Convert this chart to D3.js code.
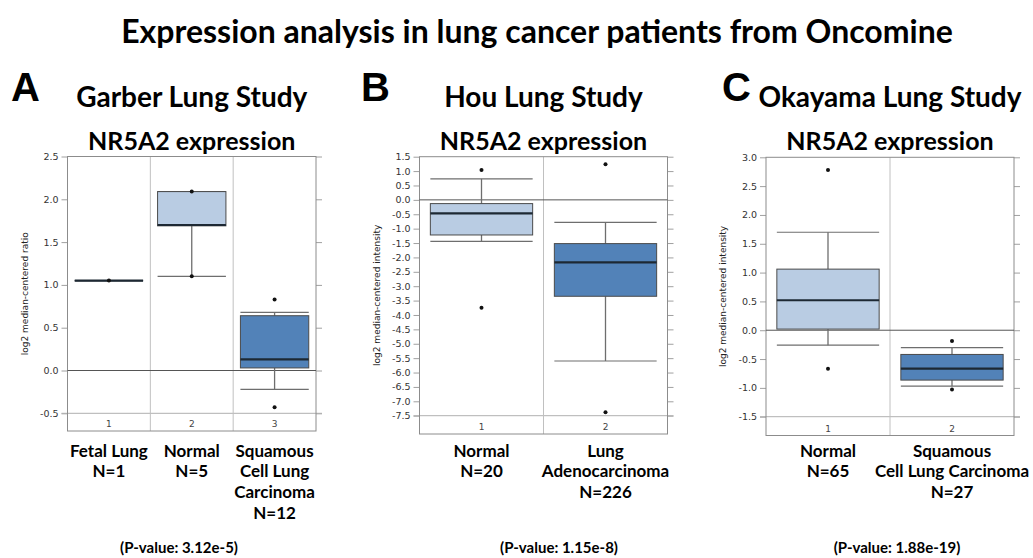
<!DOCTYPE html>
<html><head><meta charset="utf-8">
<script src="https://cdn.jsdelivr.net/npm/d3@7"></script>
<style>body{margin:0;background:#fff}svg{display:block}</style>
</head><body>
<svg id="chart" width="1033" height="558"></svg>
<script>
// ---------------- DATA ----------------
const mainTitle = "Expression analysis in lung cancer patients from Oncomine";
const panelLetters = ["A", "B", "C"];
const studyNames = ["Garber Lung Study", "Hou Lung Study", "Okayama Lung Study"];
const geneTitle = "NR5A2 expression";
const yAxisTitles = ["log2 median-centered ratio", "log2 median-centered intensity", "log2 median-centered intensity"];
const pValues = ["(P-value: 3.12e-5)", "(P-value: 1.15e-8)", "(P-value: 1.88e-19)"];

// Panel A: Garber
const garberCategories = ["Fetal Lung", "Normal", "Squamous\nCell Lung\nCarcinoma"];
const garberN = [1, 5, 12];
const garberQ1 = [1.05, 1.69, 0.03];
const garberMedian = [1.05, 1.70, 0.13];
const garberQ3 = [1.05, 2.09, 0.64];
const garberWhiskerLow = [1.05, 1.10, -0.22];
const garberWhiskerHigh = [1.05, 2.09, 0.68];
const garberPoints = [[1.05], [1.10, 2.09], [0.83, -0.43]];
const garberTicks = [-0.5, 0.0, 0.5, 1.0, 1.5, 2.0, 2.5];

// Panel B: Hou
const houCategories = ["Normal", "Lung\nAdenocarcinoma"];
const houN = [20, 226];
const houQ1 = [-1.22, -3.35];
const houMedian = [-0.47, -2.17];
const houQ3 = [-0.13, -1.52];
const houWhiskerLow = [-1.44, -5.60];
const houWhiskerHigh = [0.73, -0.78];
const houPoints = [[1.04, -3.75], [1.24, -7.38]];
const houTicks = [-7.5, -7.0, -6.5, -6.0, -5.5, -5.0, -4.5, -4.0, -3.5, -3.0, -2.5, -2.0, -1.5, -1.0, -0.5, 0.0, 0.5, 1.0, 1.5];

// Panel C: Okayama
const okayamaCategories = ["Normal", "Squamous\nCell Lung Carcinoma"];
const okayamaN = [65, 27];
const okayamaQ1 = [0.02, -0.865];
const okayamaMedian = [0.52, -0.667];
const okayamaQ3 = [1.06, -0.42];
const okayamaWhiskerLow = [-0.26, -0.97];
const okayamaWhiskerHigh = [1.70, -0.30];
const okayamaPoints = [[2.78, -0.67], [-0.185, -1.03]];
const okayamaTicks = [-1.5, -1.0, -0.5, 0.0, 0.5, 1.0, 1.5, 2.0, 2.5, 3.0];

// ---------------- LAYOUT / STYLE ----------------
const svg = d3.select("#chart");
const bold = "Lato, 'Noto Sans', sans-serif";
const small = "'DejaVu Sans', sans-serif";
const lightFill = "#b9cce3";
const darkFill = "#5282b8";

svg.append("text").attr("x", 537).attr("y", 43).attr("text-anchor", "middle")
  .style("font-family", bold).style("font-weight", 700).style("font-size", "32px").text(mainTitle);

const panels = [
  {cats: garberCategories, n: garberN, q1: garberQ1, med: garberMedian, q3: garberQ3, wlo: garberWhiskerLow, whi: garberWhiskerHigh, pts: garberPoints, ticks: garberTicks,
   x0: 67.5, x1: 316, yTop: 156.5, yLow: 413.3, yBot: 431, letterX: 11, pX: 179},
  {cats: houCategories, n: houN, q1: houQ1, med: houMedian, q3: houQ3, wlo: houWhiskerLow, whi: houWhiskerHigh, pts: houPoints, ticks: houTicks,
   x0: 419.5, x1: 667.5, yTop: 156.7, yLow: 415.7, yBot: 434, letterX: 361, pX: 559},
  {cats: okayamaCategories, n: okayamaN, q1: okayamaQ1, med: okayamaMedian, q3: okayamaQ3, wlo: okayamaWhiskerLow, whi: okayamaWhiskerHigh, pts: okayamaPoints, ticks: okayamaTicks,
   x0: 766, x1: 1014, yTop: 157.3, yLow: 416.7, yBot: 435.5, letterX: 722, pX: 897}
];

panels.forEach((p, pi) => {
  const g = svg.append("g");
  const idx = p.cats.map((d, i) => i);
  const x = d3.scaleBand().domain(idx).range([p.x0, p.x1]);
  const y = d3.scaleLinear().domain([p.ticks[0], p.ticks[p.ticks.length - 1]]).range([p.yLow, p.yTop]);
  const cx = (p.x0 + p.x1) / 2;
  const bw = x.bandwidth() * 0.825;

  // headings
  g.append("text").attr("x", p.letterX).attr("y", 101)
    .style("font-family", "'Liberation Sans', Arial, sans-serif").style("font-weight", 700).style("font-size", "40px").text(panelLetters[pi]);
  g.append("text").attr("x", cx).attr("y", 107).attr("text-anchor", "middle")
    .style("font-family", bold).style("font-weight", 700).style("font-size", "28px").text(studyNames[pi]);
  g.append("text").attr("x", cx).attr("y", 150).attr("text-anchor", "middle")
    .style("font-family", bold).style("font-weight", 700).style("font-size", "25px").text(geneTitle);

  // axes (ticks both sides)
  const fmt = v => v.toFixed(1);
  const la = g.append("g").attr("transform", `translate(${p.x0},0)`)
    .call(d3.axisLeft(y).tickValues(p.ticks).tickFormat(fmt).tickSizeInner(6).tickSizeOuter(0).tickPadding(3));
  const ra = g.append("g").attr("transform", `translate(${p.x1},0)`)
    .call(d3.axisRight(y).tickValues(p.ticks).tickFormat("").tickSizeInner(6).tickSizeOuter(0));
  [la, ra].forEach(a => {
    a.select(".domain").remove();
    a.selectAll(".tick line").attr("stroke", "#a0a0a0");
  });
  la.selectAll(".tick text").style("font-family", small).style("font-size", "9.5px").attr("fill", "#333");

  // bottom tick line across plot
  g.append("line").attr("x1", p.x0 - 6).attr("x2", p.x1 + 6).attr("y1", y(p.ticks[0])).attr("y2", y(p.ticks[0]))
    .attr("stroke", "#b0b0b0");

  // dividers
  idx.slice(1).forEach(i => {
    g.append("line").attr("x1", x(i)).attr("x2", x(i)).attr("y1", p.yTop).attr("y2", p.yBot).attr("stroke", "#c0c0c0");
  });

  // frame
  g.append("rect").attr("x", p.x0).attr("y", p.yTop).attr("width", p.x1 - p.x0).attr("height", p.yBot - p.yTop)
    .attr("fill", "none").attr("stroke", "#8c8c8c").attr("stroke-width", 1);

  // zero line
  g.append("line").attr("x1", p.x0).attr("x2", p.x1).attr("y1", y(0)).attr("y2", y(0)).attr("stroke", "#555").attr("stroke-width", 1);

  // y axis title
  const ym = (p.yTop + p.yBot) / 2;
  const tx = p.x0 - 40;
  g.append("text").attr("transform", `translate(${tx},${ym}) rotate(-90)`).attr("text-anchor", "middle")
    .style("font-family", small).style("font-size", "9px").attr("fill", "#222").text(yAxisTitles[pi]);

  // category numbers
  idx.forEach(i => {
    g.append("text").attr("x", x(i) + x.bandwidth() / 2).attr("y", p.yBot - 4).attr("text-anchor", "middle")
      .style("font-family", small).style("font-size", "9px").attr("fill", "#444").text(i + 1);
  });

  // boxes
  idx.forEach(i => {
    const c = x(i) + x.bandwidth() / 2;
    const fill = i === idx.length - 1 ? darkFill : lightFill;
    const bx = g.append("g");
    // whiskers
    bx.append("line").attr("x1", c).attr("x2", c).attr("y1", y(p.q3[i])).attr("y2", y(p.whi[i])).attr("stroke", "#6e6e6e").attr("stroke-width", 1.3);
    bx.append("line").attr("x1", c).attr("x2", c).attr("y1", y(p.q1[i])).attr("y2", y(p.wlo[i])).attr("stroke", "#6e6e6e").attr("stroke-width", 1.3);
    [p.whi[i], p.wlo[i]].forEach(v => {
      bx.append("line").attr("x1", c - bw / 2).attr("x2", c + bw / 2).attr("y1", y(v)).attr("y2", y(v)).attr("stroke", "#6e6e6e").attr("stroke-width", 1.2);
    });
    bx.append("rect").attr("x", c - bw / 2).attr("width", bw).attr("y", y(p.q3[i])).attr("height", Math.max(0, y(p.q1[i]) - y(p.q3[i])))
      .attr("fill", fill).attr("stroke", "#4a4a4a").attr("stroke-width", 1);
    bx.append("line").attr("x1", c - bw / 2).attr("x2", c + bw / 2).attr("y1", y(p.med[i])).attr("y2", y(p.med[i]))
      .attr("stroke", "#1d2833").attr("stroke-width", 2.2);
    p.pts[i].forEach(v => {
      bx.append("circle").attr("cx", c).attr("cy", y(v)).attr("r", 2).attr("fill", "#111");
    });

    // category labels
    const lines = p.cats[i].split("\n").concat(["N=" + p.n[i]]);
    const t = g.append("text").attr("text-anchor", "middle")
      .style("font-family", bold).style("font-weight", 700).style("font-size", "17px");
    lines.forEach((l, li) => {
      t.append("tspan").attr("x", c).attr("y", 456.7 + li * 20.6).text(l);
    });
  });

  // p-value
  g.append("text").attr("x", p.pX).attr("y", 553).attr("text-anchor", "middle")
    .style("font-family", bold).style("font-weight", 700).style("font-size", "15px").text(pValues[pi]);
});
</script>
</body></html>
